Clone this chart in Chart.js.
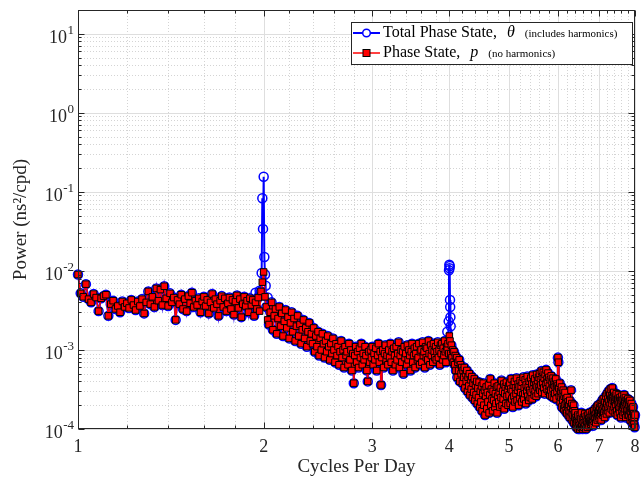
<!DOCTYPE html>
<html>
<head>
<meta charset="utf-8">
<script src="https://cdn.jsdelivr.net/npm/chart.js@4.4.1/dist/chart.umd.min.js"></script>
<style>
html, body { margin: 0; padding: 0; background: #fff; }
canvas { display: block; }
</style>
</head>
<body>
<canvas id="psdChart" width="641" height="479"></canvas>
<script>
// Power spectrum of the phase state, 1 to 8 cycles per day
const freqStart = 1.0;   // cpd, first spectral bin
const freqStep = 0.01;   // cpd, bin spacing

// Phase state p (no harmonics), one row per 0.2 cpd
const phaseState = [
    90e-4, 52e-4, 47e-4, 68e-4, 44e-4, 40e-4, 51e-4, 46e-4, 31e-4, 45e-4, 48e-4, 50e-4, 27e-4, 38e-4, 42e-4, 33e-4, 36e-4, 30e-4, 41e-4, 35e-4,   // 1.0
    39e-4, 34e-4, 43e-4, 37e-4, 32e-4, 41e-4, 36e-4, 44e-4, 29e-4, 40e-4, 55e-4, 38e-4, 47e-4, 35e-4, 60e-4, 42e-4, 58e-4, 37e-4, 64e-4, 45e-4,   // 1.2
    36e-4, 52e-4, 40e-4, 46e-4, 24e-4, 43e-4, 38e-4, 50e-4, 33e-4, 44e-4, 31e-4, 48e-4, 39e-4, 53e-4, 35e-4, 42e-4, 37e-4, 45e-4, 30e-4, 41e-4,   // 1.4
    47e-4, 36e-4, 43e-4, 29e-4, 40e-4, 51e-4, 34e-4, 44e-4, 38e-4, 27e-4, 42e-4, 48e-4, 35e-4, 45e-4, 31e-4, 39e-4, 46e-4, 33e-4, 43e-4, 28e-4,   // 1.6
    41e-4, 49e-4, 34e-4, 44e-4, 26e-4, 38e-4, 47e-4, 36e-4, 42e-4, 30e-4, 45e-4, 37e-4, 43e-4, 27e-4, 40e-4, 33e-4, 46e-4, 31e-4, 55e-4, 72e-4,   // 1.8
    97e-4, 47e-4, 35e-4, 24e-4, 21e-4, 30e-4, 40e-4, 18e-4, 27e-4, 33e-4, 16e-4, 25e-4, 35e-4, 20e-4, 29e-4, 15e-4, 23e-4, 32e-4, 19e-4, 26e-4,   // 2.0
    14e-4, 22e-4, 30e-4, 17e-4, 25e-4, 13e-4, 20e-4, 27e-4, 15e-4, 21e-4, 12e-4, 18e-4, 24e-4, 14e-4, 19e-4, 11e-4, 17e-4, 22e-4, 13e-4, 16e-4,   // 2.2
    12e-4, 19e-4, 9.5e-4, 15e-4, 11e-4, 17e-4, 8.5e-4, 14e-4, 10e-4, 16e-4, 12e-4, 8.0e-4, 13e-4, 9.5e-4, 15e-4, 11e-4, 7.5e-4, 12e-4, 9.0e-4, 14e-4,   // 2.4
    10e-4, 7.0e-4, 12e-4, 8.5e-4, 11e-4, 6.5e-4, 9.5e-4, 13e-4, 8.0e-4, 10e-4, 6.0e-4, 11e-4, 8.5e-4, 9.5e-4, 6.5e-4, 12e-4, 7.5e-4, 10e-4, 5.5e-4, 9.0e-4,   // 2.6
    3.8e-4, 8.5e-4, 11e-4, 7.0e-4, 9.5e-4, 6.0e-4, 10.5e-4, 8.0e-4, 12e-4, 6.5e-4, 9.0e-4, 7.5e-4, 11e-4, 8.5e-4, 5.5e-4, 4.0e-4, 9.5e-4, 7.0e-4, 10e-4, 8.0e-4,   // 2.8
    11e-4, 6.5e-4, 9.0e-4, 7.5e-4, 10.5e-4, 5.5e-4, 8.5e-4, 12e-4, 7.0e-4, 9.5e-4, 3.6e-4, 8.0e-4, 10e-4, 6.0e-4, 9.0e-4, 11.5e-4, 7.5e-4, 8.5e-4, 6.5e-4, 10e-4,   // 3.0
    8.0e-4, 12e-4, 7.0e-4, 9.5e-4, 5.5e-4, 10.5e-4, 8.5e-4, 6.5e-4, 11e-4, 7.5e-4, 9.0e-4, 12.5e-4, 6.0e-4, 8.5e-4, 10e-4, 7.0e-4, 9.5e-4, 5.0e-4, 11e-4, 8.0e-4,   // 3.2
    9.0e-4, 6.5e-4, 11.5e-4, 7.5e-4, 10e-4, 8.5e-4, 5.5e-4, 9.5e-4, 12e-4, 7.0e-4, 8.5e-4, 10.5e-4, 6.0e-4, 9.0e-4, 11e-4, 7.5e-4, 8.0e-4, 12e-4, 6.5e-4, 9.5e-4,   // 3.4
    10e-4, 7.0e-4, 12.5e-4, 8.5e-4, 9.5e-4, 6.0e-4, 11e-4, 8.0e-4, 10.5e-4, 7.5e-4, 13e-4, 9.0e-4, 6.5e-4, 11.5e-4, 8.5e-4, 10e-4, 7.0e-4, 12e-4, 9.5e-4, 8.0e-4,   // 3.6
    11e-4, 7.5e-4, 9.5e-4, 12.5e-4, 8.0e-4, 10e-4, 6.5e-4, 11.5e-4, 9.0e-4, 12e-4, 7.5e-4, 10.5e-4, 8.5e-4, 13e-4, 9.5e-4, 7.0e-4, 11e-4, 10e-4, 12e-4, 9.0e-4,   // 3.8
    15e-4, 13e-4, 9.0e-4, 11.5e-4, 8.0e-4, 10e-4, 7.0e-4, 9.5e-4, 6.5e-4, 8.5e-4, 5.5e-4, 8.0e-4, 4.5e-4, 7.0e-4, 5.5e-4, 7.5e-4, 4.0e-4, 6.5e-4, 5.0e-4, 6.0e-4,   // 4.0
    3.8e-4, 5.5e-4, 4.5e-4, 6.0e-4, 3.3e-4, 5.0e-4, 4.0e-4, 5.5e-4, 3.0e-4, 4.5e-4, 3.5e-4, 5.0e-4, 2.7e-4, 4.2e-4, 3.2e-4, 4.6e-4, 2.5e-4, 3.8e-4, 2.9e-4, 4.3e-4,   // 4.2
    2.3e-4, 3.6e-4, 2.7e-4, 4.0e-4, 2.1e-4, 3.3e-4, 2.5e-4, 3.9e-4, 1.9e-4, 3.0e-4, 2.2e-4, 3.5e-4, 1.7e-4, 2.8e-4, 3.8e-4, 2.0e-4, 3.1e-4, 1.5e-4, 2.6e-4, 3.4e-4,   // 4.4
    1.8e-4, 2.9e-4, 2.2e-4, 3.6e-4, 1.6e-4, 2.7e-4, 4.3e-4, 2.0e-4, 3.2e-4, 2.4e-4, 1.7e-4, 3.0e-4, 2.3e-4, 3.8e-4, 1.9e-4, 2.8e-4, 2.1e-4, 3.4e-4, 1.6e-4, 2.6e-4,   // 4.6
    3.5e-4, 2.2e-4, 2.9e-4, 1.9e-4, 3.3e-4, 2.5e-4, 4.1e-4, 2.0e-4, 3.0e-4, 2.4e-4, 3.7e-4, 1.8e-4, 2.8e-4, 3.4e-4, 2.1e-4, 3.9e-4, 2.6e-4, 3.1e-4, 2.0e-4, 3.5e-4,   // 4.8
    2.7e-4, 3.8e-4, 2.1e-4, 3.2e-4, 4.3e-4, 2.4e-4, 3.0e-4, 1.9e-4, 3.6e-4, 2.6e-4, 4.0e-4, 2.2e-4, 3.3e-4, 2.8e-4, 4.4e-4, 2.3e-4, 3.1e-4, 3.7e-4, 2.0e-4, 3.4e-4,   // 5.0
    2.5e-4, 4.1e-4, 2.9e-4, 3.5e-4, 2.2e-4, 3.9e-4, 2.7e-4, 4.5e-4, 2.4e-4, 3.3e-4, 2.8e-4, 4.2e-4, 2.1e-4, 3.6e-4, 3.0e-4, 4.6e-4, 2.6e-4, 3.4e-4, 2.3e-4, 4.0e-4,   // 5.2
    3.1e-4, 2.5e-4, 4.4e-4, 2.9e-4, 3.7e-4, 2.4e-4, 4.8e-4, 3.2e-4, 3.9e-4, 2.7e-4, 4.3e-4, 3.0e-4, 3.6e-4, 2.6e-4, 4.9e-4, 3.4e-4, 4.1e-4, 2.8e-4, 4.5e-4, 3.3e-4,   // 5.4
    5.0e-4, 3.1e-4, 4.2e-4, 3.6e-4, 5.4e-4, 2.9e-4, 4.6e-4, 3.8e-4, 5.2e-4, 3.3e-4, 4.4e-4, 2.8e-4, 4.9e-4, 3.7e-4, 5.6e-4, 3.2e-4, 4.3e-4, 3.9e-4, 5.1e-4, 3.0e-4,   // 5.6
    4.5e-4, 3.5e-4, 2.7e-4, 4.2e-4, 3.1e-4, 4.7e-4, 2.6e-4, 3.8e-4, 3.3e-4, 4.4e-4, 2.5e-4, 3.6e-4, 4.0e-4, 2.8e-4, 3.4e-4, 4.3e-4, 2.4e-4, 3.7e-4, 3.0e-4, 3.5e-4,   // 5.8
    8.0e-4, 7.0e-4, 3.3e-4, 2.6e-4, 3.8e-4, 2.2e-4, 3.0e-4, 2.5e-4, 3.4e-4, 1.9e-4, 2.8e-4, 2.3e-4, 3.1e-4, 1.8e-4, 2.6e-4, 2.0e-4, 2.9e-4, 1.7e-4, 2.4e-4, 2.1e-4,   // 6.0
    1.6e-4, 2.5e-4, 1.9e-4, 2.2e-4, 1.5e-4, 2.0e-4, 1.7e-4, 2.3e-4, 1.4e-4, 1.9e-4, 3.1e-4, 1.6e-4, 2.1e-4, 1.3e-4, 1.8e-4, 1.5e-4, 2.0e-4, 1.2e-4, 1.7e-4, 1.4e-4,   // 6.2
    1.6e-4, 1.15e-4, 1.4e-4, 1.05e-4, 1.3e-4, 1.2e-4, 1.5e-4, 1.0e-4, 1.25e-4, 1.1e-4, 1.45e-4, 1.0e-4, 1.2e-4, 1.35e-4, 1.05e-4, 1.6e-4, 1.1e-4, 1.3e-4, 1.0e-4, 1.25e-4,   // 6.4
    1.4e-4, 1.05e-4, 1.2e-4, 1.55e-4, 1.1e-4, 1.3e-4, 1.0e-4, 1.45e-4, 1.15e-4, 1.25e-4, 1.05e-4, 1.5e-4, 1.2e-4, 1.35e-4, 1.1e-4, 1.6e-4, 1.25e-4, 1.4e-4, 1.15e-4, 1.3e-4,   // 6.6
    1.5e-4, 1.2e-4, 1.65e-4, 1.3e-4, 1.1e-4, 1.45e-4, 1.7e-4, 1.25e-4, 1.5e-4, 1.35e-4, 1.8e-4, 1.2e-4, 1.55e-4, 1.4e-4, 1.9e-4, 1.3e-4, 1.6e-4, 2.0e-4, 1.45e-4, 1.7e-4,   // 6.8
    1.35e-4, 1.85e-4, 1.5e-4, 2.1e-4, 1.6e-4, 1.3e-4, 1.95e-4, 1.7e-4, 2.3e-4, 1.5e-4, 1.8e-4, 2.4e-4, 1.6e-4, 2.0e-4, 1.4e-4, 2.2e-4, 1.75e-4, 2.6e-4, 1.9e-4, 1.55e-4,   // 7.0
    2.1e-4, 2.8e-4, 1.7e-4, 2.4e-4, 1.9e-4, 3.0e-4, 2.2e-4, 1.6e-4, 2.7e-4, 2.0e-4, 3.2e-4, 2.4e-4, 1.8e-4, 2.6e-4, 2.1e-4, 3.3e-4, 2.5e-4, 1.7e-4, 2.3e-4, 2.9e-4,   // 7.2
    1.9e-4, 2.6e-4, 2.2e-4, 1.6e-4, 2.5e-4, 2.0e-4, 2.8e-4, 1.7e-4, 2.3e-4, 1.5e-4, 2.4e-4, 2.0e-4, 2.7e-4, 1.8e-4, 2.2e-4, 1.6e-4, 2.5e-4, 1.9e-4, 2.3e-4, 1.4e-4,   // 7.4
    2.1e-4, 2.6e-4, 1.7e-4, 2.3e-4, 1.9e-4, 1.5e-4, 2.4e-4, 2.0e-4, 2.7e-4, 1.6e-4, 2.2e-4, 1.8e-4, 2.5e-4, 1.4e-4, 2.0e-4, 2.3e-4, 1.7e-4, 2.1e-4, 1.5e-4, 2.4e-4,   // 7.6
    1.8e-4, 2.2e-4, 1.5e-4, 2.0e-4, 1.7e-4, 2.3e-4, 1.3e-4, 1.9e-4, 1.6e-4, 2.1e-4, 1.4e-4, 1.8e-4, 1.2e-4, 1.65e-4, 1.9e-4, 1.3e-4, 1.55e-4, 1.15e-4, 1.4e-4, 1.05e-4,   // 7.8
    1.5e-4                                                                                                                                              // 8.0
];

// Total phase state theta: same as p except around the harmonics [cpd, power]
const thetaHarmonics = [
    [1.94, 5.3e-3], [1.97, 5.6e-3],
    [1.985, 9.4e-3], [1.99, 0.083], [1.995, 0.034], [2.0, 0.155], [2.005, 0.015], [2.01, 9.0e-3],
    [2.015, 6.5e-3], [2.03, 4.6e-3],
    [3.97, 1.7e-3], [3.99, 2.3e-3], [3.995, 0.0102], [4.0, 0.012], [4.003, 0.0108],
    [4.006, 0.0115], [4.01, 4.3e-3], [4.013, 3.5e-3], [4.016, 2.6e-3], [4.02, 2.0e-3]
];

const xTicks = [1, 2, 3, 4, 5, 6, 7, 8];
const yDecades = [-4, -3, -2, -1, 0, 1];

const FONT = '"Liberation Serif", "Times New Roman", serif';
const INK = '#262626';

// build {x, y} points
const freqs = phaseState.map((v, i) => +(freqStart + i * freqStep).toFixed(3));
const phaseData = freqs.map((f, i) => ({ x: f, y: phaseState[i] }));

const thetaMap = new Map(freqs.map((f, i) => [f.toFixed(3), phaseState[i]]));
thetaHarmonics.forEach(([f, v]) => thetaMap.set(f.toFixed(3), v));
const thetaData = [...thetaMap].map(([k, v]) => ({ x: +k, y: v })).sort((a, b) => a.x - b.x);

// minor grid positions
const xMinor = [];
for (let i = 1; i < 8; i++) {
    for (let k = 1; k <= 4; k++) xMinor.push(i + k * 0.2);
}
const yMinor = [];
yDecades.forEach(d => {
    for (let k = 2; k <= 9; k++) {
        const v = k * Math.pow(10, d);
        if (v <= 20) yMinor.push(v);
    }
});

function hline(ctx, x0, x1, y) {
    ctx.beginPath(); ctx.moveTo(x0, y); ctx.lineTo(x1, y); ctx.stroke();
}
function vline(ctx, x, y0, y1) {
    ctx.beginPath(); ctx.moveTo(x, y0); ctx.lineTo(x, y1); ctx.stroke();
}

const axesFrame = {
    id: 'axesFrame',
    beforeDatasetsDraw(chart) {
        const { ctx, chartArea: a, scales: { x, y } } = chart;
        ctx.save();
        ctx.lineWidth = 1;

        // dotted minor grid
        ctx.strokeStyle = '#d4d4d4';
        ctx.setLineDash([1, 2]);
        xMinor.forEach(v => vline(ctx, Math.round(x.getPixelForValue(v)) + 0.5, a.top, a.bottom));
        yMinor.forEach(v => hline(ctx, a.left, a.right, Math.round(y.getPixelForValue(v)) + 0.5));

        // solid major grid
        ctx.setLineDash([]);
        ctx.strokeStyle = '#dedede';
        xTicks.forEach(v => vline(ctx, Math.round(x.getPixelForValue(v)) + 0.5, a.top, a.bottom));
        yDecades.forEach(d => hline(ctx, a.left, a.right, Math.round(y.getPixelForValue(Math.pow(10, d))) + 0.5));
        ctx.restore();
    },
    afterDatasetsDraw(chart) {
        const { ctx, chartArea: a, scales: { x, y } } = chart;
        const L = a.left + 0.5, R = a.right - 0.5, T = a.top + 0.5, B = a.bottom - 0.5;
        ctx.save();

        // box and inward ticks
        ctx.strokeStyle = INK;
        ctx.lineWidth = 1;
        ctx.strokeRect(L, T, R - L, B - T);
        const tickX = (v, len) => {
            const px = Math.round(x.getPixelForValue(v)) + 0.5;
            vline(ctx, px, B, B - len);
            vline(ctx, px, T, T + len);
        };
        const tickY = (v, len) => {
            const py = Math.round(y.getPixelForValue(v)) + 0.5;
            hline(ctx, L, L + len, py);
            hline(ctx, R, R - len, py);
        };
        xTicks.forEach(v => tickX(v, 6));
        xMinor.forEach(v => tickX(v, 3));
        yDecades.forEach(d => tickY(Math.pow(10, d), 6));
        yMinor.forEach(v => tickY(v, 3));

        // tick labels
        ctx.fillStyle = INK;
        ctx.textBaseline = 'middle';
        ctx.textAlign = 'center';
        ctx.font = '18px ' + FONT;
        xTicks.forEach(v => ctx.fillText(String(v), x.getPixelForValue(v), 447));

        ctx.textAlign = 'right';
        yDecades.forEach(d => {
            const py = y.getPixelForValue(Math.pow(10, d));
            const exp = String(d);
            ctx.font = '13px ' + FONT;
            const w = ctx.measureText(exp).width;
            ctx.fillText(exp, 74, py - 3);
            ctx.font = '18px ' + FONT;
            ctx.fillText('10', 74 - w - 0.5, py + 4);
        });

        // axis titles
        ctx.textAlign = 'center';
        ctx.font = '19px ' + FONT;
        ctx.fillText('Cycles Per Day', (a.left + a.right) / 2, 467);
        ctx.save();
        ctx.translate(21, (a.top + a.bottom) / 2);
        ctx.rotate(-Math.PI / 2);
        ctx.fillText('Power (ns\u00B2/cpd)', 0, 0);
        ctx.restore();

        drawLegend(ctx);
        ctx.restore();
    }
};

function drawLegend(ctx) {
    const bx = 351, by = 22, bw = 281, bh = 42;
    ctx.fillStyle = '#fff';
    ctx.fillRect(bx, by, bw, bh);
    ctx.strokeStyle = INK;
    ctx.lineWidth = 1;
    ctx.setLineDash([]);
    ctx.strokeRect(bx + 0.5, by + 0.5, bw, bh);

    const rows = [
        { y: 33, color: '#0000ff', marker: 'circle', main: 'Total Phase State,', sym: '\u03B8', note: '(includes harmonics)' },
        { y: 53, color: '#ff0000', marker: 'rect', main: 'Phase State,', sym: 'p', note: '(no harmonics)' }
    ];
    rows.forEach(r => {
        ctx.strokeStyle = r.color;
        ctx.lineWidth = r.marker === 'circle' ? 2 : 1.5;
        hline(ctx, 353, 380, r.y);
        if (r.marker === 'circle') {
            ctx.lineWidth = 1.5;
            ctx.fillStyle = '#fff';
            ctx.beginPath(); ctx.arc(366.5, r.y, 3.8, 0, Math.PI * 2); ctx.fill(); ctx.stroke();
        } else {
            ctx.fillStyle = '#ff0000';
            ctx.fillRect(363, r.y - 3.5, 7, 7);
            ctx.strokeStyle = '#000';
            ctx.lineWidth = 1;
            ctx.strokeRect(363, r.y - 3.5, 7, 7);
        }
        ctx.fillStyle = '#000';
        ctx.textAlign = 'left';
        ctx.textBaseline = 'middle';
        ctx.font = '16px ' + FONT;
        ctx.fillText(r.main, 383, r.y);
        let tx = 383 + ctx.measureText(r.main).width + 10;
        ctx.font = 'italic 16px ' + FONT;
        ctx.fillText(r.sym, tx, r.y);
        tx += ctx.measureText(r.sym).width + 10;
        ctx.font = '11px ' + FONT;
        ctx.fillText(r.note, tx, r.y + 1);
    });
}

const ctx = document.getElementById('psdChart').getContext('2d');

new Chart(ctx, {
    type: 'line',
    data: {
        datasets: [
            {
                label: 'Phase State, p (no harmonics)',
                data: phaseData,
                borderColor: '#ff0000',
                borderWidth: 1.5,
                pointStyle: 'rect',
                pointRadius: 4.6,
                pointBackgroundColor: '#ff0000',
                pointBorderColor: '#000000',
                pointBorderWidth: 1,
                order: 1,
                clip: false
            },
            {
                label: 'Total Phase State, \u03B8 (includes harmonics)',
                data: thetaData,
                borderColor: '#0000ff',
                borderWidth: 2,
                pointStyle: 'circle',
                pointRadius: 4.5,
                pointBackgroundColor: 'rgba(0,0,0,0)',
                pointBorderColor: '#0000ff',
                pointBorderWidth: 1.5,
                order: 2,
                clip: false
            }
        ]
    },
    options: {
        responsive: false,
        animation: false,
        devicePixelRatio: 1,
        layout: { padding: { top: 10, right: 5, left: 0, bottom: 0 } },
        elements: { line: { tension: 0 } },
        plugins: {
            legend: { display: false },
            tooltip: { enabled: false }
        },
        scales: {
            x: {
                type: 'logarithmic',
                min: 1,
                max: 8,
                ticks: { display: false },
                grid: { display: false },
                border: { display: false },
                afterFit: function(scale) { scale.height = 50; }
            },
            y: {
                type: 'logarithmic',
                min: 1e-4,
                max: 20,
                ticks: { display: false },
                grid: { display: false },
                border: { display: false },
                afterFit: function(scale) { scale.width = 78; }
            }
        }
    },
    plugins: [axesFrame]
});
</script>
</body>
</html>
